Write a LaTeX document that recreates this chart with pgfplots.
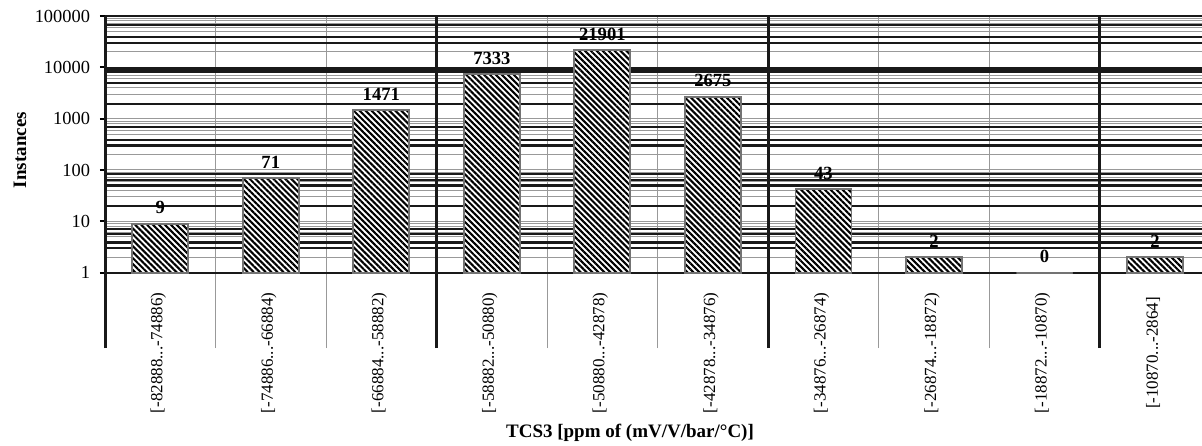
\documentclass[border=0pt]{standalone}
\usepackage{pgfplots}
\pgfplotsset{compat=1.18}
\usepackage{pgfplotstable}
\usetikzlibrary{patterns.meta}
\usepackage{fontspec}
\setmainfont{Liberation Serif}
\newcommand{\dd}{{.}{.}{.}}

\pgfplotstableread{
x n
0 9
1 71
2 1471
3 7333
4 21901
5 2675
6 43
7 2
8 0
9 2
}\datatable

\begin{document}
\begin{tikzpicture}
\begin{axis}[
  at={(0,0)}, anchor=south west, scale only axis,
  width=548.5bp, height=166bp,
  ymode=log, ymin=0.034, ymax=100000,
  xmin=-0.5, xmax=9.425,
  log origin y=0,
  ybar, bar width=28bp,
  axis line style={draw=none},
  xtick={0,1,2,3,4,5,6,7,8,9},
  xticklabels={{[-82888\dd-74886)},{[-74886\dd-66884)},{[-66884\dd-58882)},{[-58882\dd-50880)},{[-50880\dd-42878)},{[-42878\dd-34876)},{[-34876\dd-26874)},{[-26874\dd-18872)},{[-18872\dd-10870)},{[-10870\dd-2864]}},
  x tick style={draw=none},
  xticklabel style={rotate=90, anchor=center, yshift=1bp, font=\fontsize{8.5bp}{9bp}\selectfont},
  ytick={1,10,100,1000,10000,100000},
  yticklabels={1,10,100,1000,10000,100000},
  ytick pos=left, tick align=outside,
  y tick style={black, line width=1bp},
  major tick length=2.5bp,
  yticklabel style={font=\fontsize{9.2bp}{10bp}\selectfont, xshift=-1.5bp},
  minor ytick={2,3,4,5,6,7,8,9,20,30,40,50,60,70,80,90,200,300,400,500,600,700,800,900,2000,3000,4000,5000,6000,7000,8000,9000,20000,30000,40000,50000,60000,70000,80000,90000},
  minor xtick={0.5,1.5,3.5,4.5,6.5,7.5},
  minor tick length=0pt,
  ymajorgrids=true, yminorgrids=true, xminorgrids=true,
  major grid style={black!40, line width=0.5bp},
  minor grid style={black!40, line width=0.5bp},
  extra x ticks={-0.5,2.5,5.5,8.5},
  extra x tick labels={},
  extra x tick style={grid=major, major grid style={black!90, line width=1.5bp}, major tick length=0pt},
  extra y ticks={1,3,3.85,5.7,7.1,20,50,64,83,300,386,692,1943,4990,30000,39300,67600,100000},
  extra y tick labels={},
  extra y tick style={grid=major, major grid style={black!90, line width=1.1bp}, major tick length=0pt},
  xlabel={TCS3 [ppm of (mV/V/bar/°C)]},
  xlabel style={at={(axis description cs:0.4786,-0.256)}, anchor=center, font=\bfseries\fontsize{9.5bp}{11bp}\selectfont},
  ylabel={Instances},
  ylabel style={at={(axis description cs:-0.0775,0.596)}, anchor=center, font=\bfseries\fontsize{9.5bp}{11bp}\selectfont},
  enlargelimits=false,
]
\draw[black!90, line width=3bp] (axis cs:-0.5,8700) -- (axis cs:9.425,8700);
\addplot[draw=black!55, line width=0.9bp,
  preaction={fill=white},
  pattern={Lines[angle=-45,distance=2.1bp,line width=1.05bp]},
  nodes near coords, point meta=explicit symbolic,
  nodes near coords style={font=\bfseries\fontsize{9.3bp}{10bp}\selectfont, black, yshift=1bp}]
  table[x=x, y expr={max(\thisrow{n},1)}, meta=n] {\datatable};
\end{axis}
\pgfresetboundingbox
\useasboundingbox (-52.5bp,-49bp) rectangle (548.5bp,174bp);
\end{tikzpicture}
\end{document}
